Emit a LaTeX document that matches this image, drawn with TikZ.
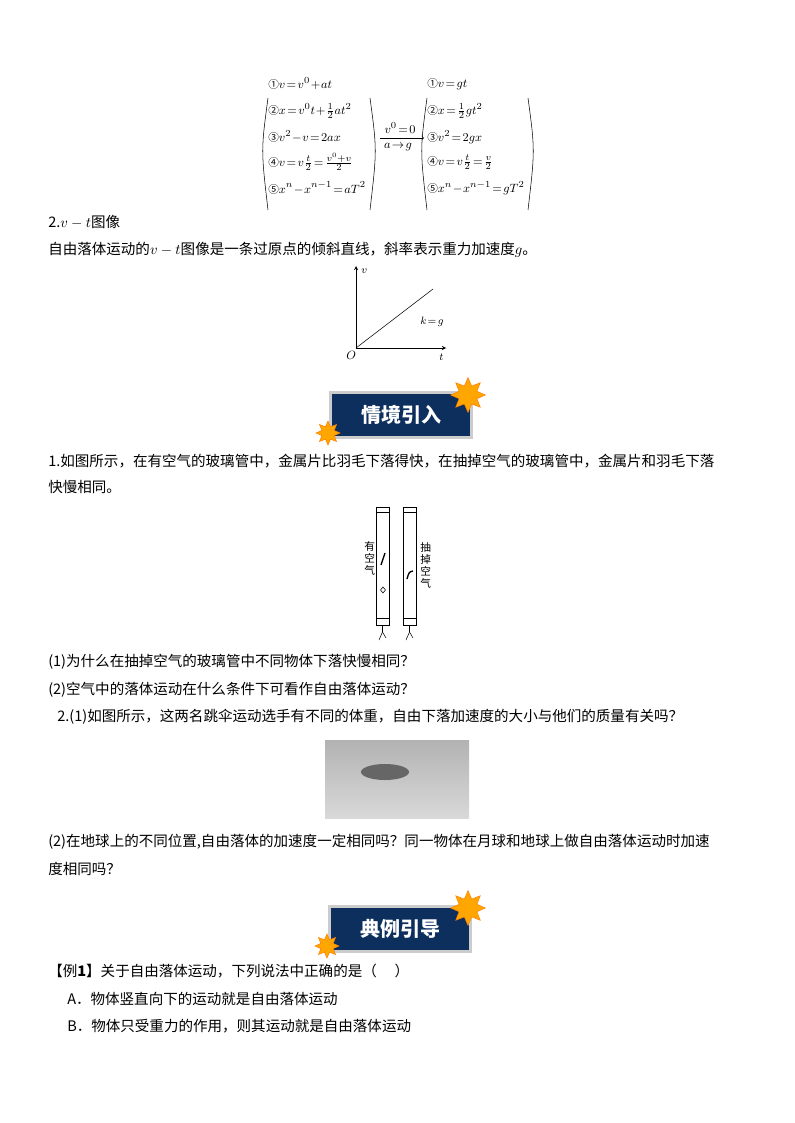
\documentclass[tikz,border=0pt]{standalone}
\usepackage{fontspec}
\newfontfamily\cjk{Noto Sans CJK SC}
\usetikzlibrary{shapes.geometric}
\begin{document}
\begin{tikzpicture}[x=0.75pt,y=-0.75pt,
 txt/.style={anchor=west,inner sep=0pt,font=\cjk\fontsize{10.9pt}{12pt}\selectfont},
 fm/.style={anchor=west,inner sep=0pt,font=\fontsize{9.5pt}{11pt}\selectfont},
 banner/.style={draw=gray!40,line width=2pt,fill={rgb,255:red,13;green,47;blue,94},minimum width=106pt,minimum height=34pt,text=white,font=\cjk\bfseries\fontsize{15pt}{18pt}\selectfont},
 starb/.style={star,star points=8,star point ratio=1.8,fill=orange!70!yellow,draw=orange,inner sep=0pt,minimum size=#1}]
\useasboundingbox (0,0) rectangle (794,1123);
\newcommand{\cn}[1]{{\cjk\fontsize{8pt}{9pt}\selectfont #1}}
\node[fm] (l1) at (268,84) {\cn{①}$v\!=\!v^0\!+\!at$};
\node[fm] (l2) at (268,111) {\cn{②}$x\!=\!v^0t\!+\!\frac12 at^2$};
\node[fm] (l3) at (268,137) {\cn{③}$v^2\!-\!v\!=\!2ax$};
\node[fm] (l4) at (268,162) {\cn{④}$v\!=\!v\frac t2\!=\!\frac{v^0+v}{2}$};
\node[fm] (l5) at (268,188) {\cn{⑤}$x^n\!-\!x^{n-1}\!=\!aT^2$};
\node[fm] (r1) at (427,84) {\cn{①}$v\!=\!gt$};
\node[fm] (r2) at (427,111) {\cn{②}$x\!=\!\frac12 gt^2$};
\node[fm] (r3) at (427,137) {\cn{③}$v^2\!=\!2gx$};
\node[fm] (r4) at (427,162) {\cn{④}$v\!=\!v\frac t2\!=\!\frac v2$};
\node[fm] (r5) at (427,188) {\cn{⑤}$x^n\!-\!x^{n-1}\!=\!gT^2$};
\draw (268,98) .. controls (261,150) .. (268,210);
\draw (370,98) .. controls (377,150) .. (370,210);
\draw (427,98) .. controls (420,150) .. (427,210);
\draw (528,98) .. controls (535,150) .. (528,210);
\node[fm,anchor=center] (cond) at (400,128) {$v^0\!=\!0$};
\node[fm,anchor=center] (ag) at (398,147) {$a\!\to\! g$};
\draw[->] (380,138) -- (424,138);
% v-t
\node[txt] (h2) at (48,222) {2.$v-t$图像};
\node[txt] (p1) at (48,250) {自由落体运动的$v-t$图像是一条过原点的倾斜直线，斜率表示重力加速度$g$。};
\coordinate (O) at (356,348);
\draw[->,>=stealth] (O) -- (356,266);
\draw[->,>=stealth] (O) -- (446,348);
\draw (O) -- (433,289);
\node[fm,font=\footnotesize] (vl) at (361,271) {$v$};
\node[fm,font=\footnotesize] (kg) at (420,322) {$k\!=\!g$};
\node[fm] (ol) at (346,355) {$O$};
\node[fm,font=\footnotesize] (tl) at (439,357) {$t$};
% banner 1
\node[banner] (b1) at (401,415) {情境引入};
\node[starb=26pt] (s1) at (468,395) {};
\node[starb=18pt] (s2) at (328,433) {};
\node[txt] (q1) at (48,461) {1.如图所示，在有空气的玻璃管中，金属片比羽毛下落得快，在抽掉空气的玻璃管中，金属片和羽毛下落};
\node[txt] (q1b) at (48,487) {快慢相同。};
% tubes
\foreach \x in {376,403}{
 \draw (\x,507) rectangle (\x+13,625);
 \draw (\x,512) -- (\x+13,512);
 \draw (\x,618) -- (\x+13,618);
 \draw (\x+6.5,625) -- (\x+6.5,632) -- (\x+3,640);
 \draw (\x+6.5,632) -- (\x+10,638);
}
\draw[line width=1pt] (381,565) -- (385,553);
\draw (380.5,590) -- (383,587) -- (385.5,590) -- (383,593) -- cycle;
\draw[line width=1pt] (407,579) .. controls (409,572) .. (413,571);
\node[txt,font=\cjk\fontsize{8pt}{9pt}\selectfont,align=center] (a1) at (364,558) {有\\空\\气};
\node[txt,font=\cjk\fontsize{8pt}{9pt}\selectfont,align=center] (a2) at (420,565) {抽\\掉\\空\\气};
\node[txt] (q2) at (48,662) {(1)为什么在抽掉空气的玻璃管中不同物体下落快慢相同？};
\node[txt] (q3) at (48,690) {(2)空气中的落体运动在什么条件下可看作自由落体运动？};
\node[txt] (q4) at (57,717) {2.(1)如图所示，这两名跳伞运动选手有不同的体重，自由下落加速度的大小与他们的质量有关吗？};
\shade[top color=gray!60,bottom color=gray!30] (325,740) rectangle (469,818);
\fill[gray!80!black] (385,772) ellipse (18pt and 6pt);
\node[txt] (q5) at (48,842) {(2)在地球上的不同位置,自由落体的加速度一定相同吗？同一物体在月球和地球上做自由落体运动时加速};
\node[txt] (q5b) at (48,869) {度相同吗？};
% banner 2
\node[banner] (b2) at (400,929) {典例引导};
\node[starb=26pt] (s3) at (468,908) {};
\node[starb=18pt] (s4) at (327,946) {};
\node[txt] (e1) at (48,971) {【例\textbf{1}】关于自由落体运动，下列说法中正确的是（\quad\ ）};
\node[txt] (ea) at (67,999) {A．物体竖直向下的运动就是自由落体运动};
\node[txt] (eb) at (67,1026) {B．物体只受重力的作用，则其运动就是自由落体运动};
\end{tikzpicture}
\end{document}
